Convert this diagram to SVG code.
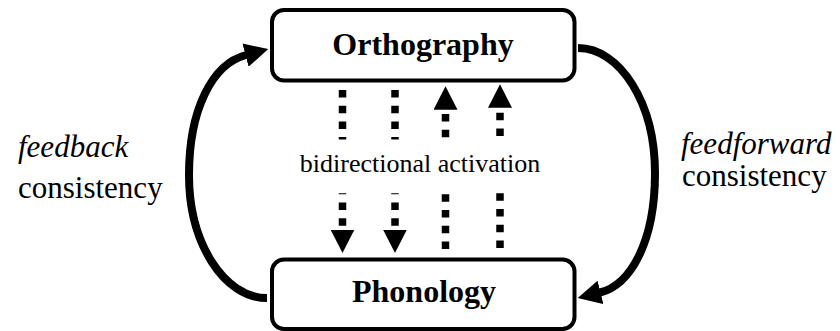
<svg xmlns="http://www.w3.org/2000/svg" width="840" height="331" viewBox="0 0 840 331">
  <style>
    .box { fill: #fff; stroke: #000; stroke-width: 4; }
    .arc { fill: none; stroke: #000; stroke-width: 8; marker-end: url(#ah); }
    .dot { fill: none; stroke: #000; stroke-width: 7.5; stroke-dasharray: 7.5 8.2; }
    .dotarrow { marker-end: url(#ah); }
  </style>
  <defs>
    <marker id="ah" markerUnits="userSpaceOnUse" markerWidth="24" markerHeight="24" viewBox="0 0 24 24" refX="0.5" refY="12" orient="auto">
      <path d="M0,0 L23.5,12 L0,24 Z" fill="#000"/>
    </marker>
  </defs>

  <g id="connectors">
    <path id="feedback-arc" class="arc" d="M 267 298 C 224 298, 189 243, 189 175 C 189 110, 212 64, 246 55"/>
    <path id="feedforward-arc" class="arc" d="M 578 48 C 620 48, 655 103, 655 173 C 655 243, 630 285, 600 292.5"/>
    <path class="dot" d="M 342.5 90 L 342.5 139.5"/>
    <path class="dot" d="M 395 90 L 395 139.5"/>
    <path class="dot dotarrow" d="M 445.5 137.3 L 445.5 109.3"/>
    <path class="dot dotarrow" d="M 500 136 L 500 107.3"/>
    <path class="dot dotarrow" style="stroke-dashoffset:6.5" d="M 342.5 193.3 L 342.5 230"/>
    <path class="dot dotarrow" style="stroke-dashoffset:6.5" d="M 395 193.3 L 395 230"/>
    <path class="dot" d="M 445.5 194.3 L 445.5 250"/>
    <path class="dot" d="M 500 193.3 L 500 249"/>
  </g>

  <g id="orthography">
    <rect class="box" x="272" y="10" width="302.5" height="70.5" rx="12"/>
    <text x="423" y="55" font-family="Liberation Serif, serif" font-weight="bold" font-size="32" text-anchor="middle" fill="#000">Orthography</text>
  </g>

  <g id="phonology">
    <rect class="box" x="272" y="259.5" width="302.5" height="69.5" rx="12"/>
    <text x="424" y="302" font-family="Liberation Serif, serif" font-weight="bold" font-size="32" text-anchor="middle" fill="#000">Phonology</text>
  </g>

  <g id="labels" font-family="Liberation Serif, serif" fill="#000">
    <text x="420" y="172" font-size="26" text-anchor="middle">bidirectional activation</text>
    <text x="18" y="157" font-size="31" font-style="italic">feedback</text>
    <text x="18" y="198" font-size="31">consistency</text>
    <text x="681" y="154" font-size="31" font-style="italic">feedforward</text>
    <text x="682" y="186" font-size="31">consistency</text>
  </g>
</svg>
